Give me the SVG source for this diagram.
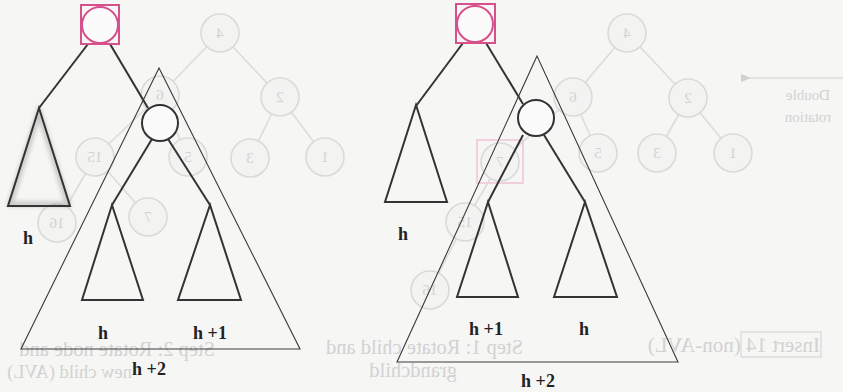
<svg xmlns="http://www.w3.org/2000/svg" width="843" height="392" viewBox="0 0 843 392">
<style>
.bg{fill:#f6f6f4}
.f{fill:none;stroke:#dcdcdc;stroke-width:1.6}
.fc{fill:#f3f3f1;stroke:#dadada;stroke-width:1.6}
.ft{font-family:"Liberation Serif",serif;fill:#d2d2d2}
.fp{fill:none;stroke:#f0c6d6;stroke-width:1.6}
.edge{stroke:#333;stroke-width:2;fill:none}
.tri{fill:none;stroke:#333;stroke-width:2;stroke-linejoin:miter}
.big{fill:none;stroke:#3a3a3a;stroke-width:1.1}
.node{fill:#fbfbfb;stroke:#333;stroke-width:2}
.pk{fill:none;stroke:#d6508c;stroke-width:2}
.pkc{fill:#fbfbfb;stroke:#d6508c;stroke-width:2}
.lbl{font-family:"Liberation Serif",serif;font-weight:bold;font-size:18px;fill:#222;text-anchor:middle}
</style>
<defs>
<filter id="blur" x="-30%" y="-30%" width="160%" height="160%"><feGaussianBlur stdDeviation="2.2"/></filter>
<marker id="fa" markerWidth="10" markerHeight="8" refX="1" refY="4" orient="auto" markerUnits="userSpaceOnUse"><path d="M10,0 L0,4 L10,8 Z" fill="#d0d0d0"/></marker>
</defs>
<rect class="bg" x="0" y="0" width="843" height="392"/>

<!-- faint bleed-through from the reverse page -->
<g id="bleed">
  <g class="f">
    <line x1="220" y1="33" x2="160" y2="95"/>
    <line x1="220" y1="33" x2="280" y2="97"/>
    <line x1="280" y1="97" x2="250" y2="158"/>
    <line x1="280" y1="97" x2="325" y2="157"/>
    <line x1="160" y1="95" x2="188" y2="157"/>
    <line x1="160" y1="95" x2="95" y2="157"/>
    <line x1="95" y1="157" x2="148" y2="217"/>
    <line x1="95" y1="157" x2="57" y2="223"/>
    <line x1="627" y1="33" x2="573" y2="97"/>
    <line x1="627" y1="33" x2="688" y2="98"/>
    <line x1="688" y1="98" x2="657" y2="153"/>
    <line x1="688" y1="98" x2="733" y2="153"/>
    <line x1="573" y1="97" x2="598" y2="153"/>
    <line x1="573" y1="97" x2="500" y2="162"/>
    <line x1="500" y1="162" x2="465" y2="222"/>
    <line x1="465" y1="222" x2="430" y2="290"/>
    <line x1="843" y1="78" x2="750" y2="78" marker-end="url(#fa)"/>
  </g>
  <rect class="fp" x="477" y="140" width="46" height="43"/>
  <g class="fc">
    <circle cx="220" cy="33" r="19"/><circle cx="280" cy="97" r="19"/><circle cx="160" cy="95" r="19"/>
    <circle cx="188" cy="157" r="19"/><circle cx="250" cy="158" r="19"/><circle cx="325" cy="157" r="19"/>
    <circle cx="95" cy="157" r="19"/><circle cx="148" cy="217" r="19"/><circle cx="57" cy="223" r="19"/>
    <circle cx="627" cy="33" r="19"/><circle cx="573" cy="97" r="19"/><circle cx="688" cy="98" r="19"/>
    <circle cx="598" cy="153" r="19"/><circle cx="657" cy="153" r="19"/><circle cx="733" cy="153" r="19"/>
    <circle cx="500" cy="162" r="19"/><circle cx="465" cy="222" r="19"/><circle cx="430" cy="290" r="19"/>
  </g>
  <g class="ft" font-size="15" text-anchor="middle" transform="scale(-1,1)">
    <text x="-220" y="38">4</text><text x="-280" y="102">2</text><text x="-160" y="100">6</text>
    <text x="-188" y="162">5</text><text x="-250" y="163">3</text><text x="-325" y="162">1</text>
    <text x="-95" y="162">15</text><text x="-148" y="222">7</text><text x="-57" y="228">16</text>
    <text x="-627" y="38">4</text><text x="-573" y="102">6</text><text x="-688" y="103">2</text>
    <text x="-598" y="158">5</text><text x="-657" y="158">3</text><text x="-733" y="158">1</text>
    <text x="-500" y="167">7</text><text x="-465" y="227">15</text><text x="-430" y="295">16</text>
  </g>
  <g class="ft" transform="scale(-1,1)">
    <text x="-808" y="100" font-size="15" text-anchor="middle">Double</text>
    <text x="-808" y="122" font-size="15" text-anchor="middle">rotation</text>
    <text x="-820" y="352" font-size="21">Insert 14 (non-AVL)</text>
    <text x="-523" y="354" font-size="20.5">Step 1: Rotate child and</text>
    <text x="-457" y="377" font-size="20.5">grandchild</text>
    <text x="-215" y="356" font-size="20.5">Step 2: Rotate node and</text>
    <text x="-132" y="378" font-size="18.5">new child (AVL)</text>
  </g>
  <rect x="741" y="332" width="80" height="25" fill="none" stroke="#d8d8d8" stroke-width="1.2"/>
  <polygon points="39,112 10,204 68,204" fill="none" stroke="#555" stroke-width="5" filter="url(#blur)" opacity="0.3"/>
</g>

<!-- left diagram -->
<g id="left-diagram">
  <g id="left-connectors">
    <line class="edge" x1="88" y1="44" x2="39" y2="108"/>
    <line class="edge" x1="110" y1="44" x2="148" y2="108"/>
    <line class="edge" x1="152" y1="139" x2="112" y2="205"/>
    <line class="edge" x1="168" y1="139" x2="210" y2="205"/>
  </g>
  <g id="left-big"><polygon class="big" points="159,68 21,349 300,349"/></g>
  <g id="left-root">
    <rect class="pk" x="81" y="5" width="38" height="39"/>
    <circle class="pkc" cx="100" cy="25" r="18"/>
  </g>
  <g id="left-child"><circle class="node" cx="160" cy="123" r="18"/></g>
  <g id="left-sub-a"><polygon class="tri" points="39,108 8,206 70,206"/><text class="lbl" x="28" y="244">h</text></g>
  <g id="left-sub-b"><polygon class="tri" points="112,205 82,300 143,300"/><text class="lbl" x="103" y="339">h</text></g>
  <g id="left-sub-c"><polygon class="tri" points="210,205 178,300 241,300"/><text class="lbl" x="210" y="339">h +1</text></g>
  <text class="lbl" x="149" y="375">h +2</text>
</g>

<!-- right diagram -->
<g id="right-diagram">
  <g id="right-connectors">
    <line class="edge" x1="463" y1="43" x2="416" y2="106"/>
    <line class="edge" x1="486" y1="43" x2="523" y2="104"/>
    <line class="edge" x1="523" y1="135" x2="488" y2="202"/>
    <line class="edge" x1="544" y1="135" x2="585" y2="202"/>
  </g>
  <g id="right-big"><polygon class="big" points="537,56 397,362 678,362"/></g>
  <g id="right-root">
    <rect class="pk" x="456" y="4" width="39" height="39"/>
    <circle class="pkc" cx="475" cy="24" r="18"/>
  </g>
  <g id="right-child"><circle class="node" cx="536" cy="118" r="18"/></g>
  <g id="right-sub-a"><polygon class="tri" points="416,105 385,202 447,202"/><text class="lbl" x="403" y="240">h</text></g>
  <g id="right-sub-b"><polygon class="tri" points="488,202 457,297 518,297"/><text class="lbl" x="486" y="335">h +1</text></g>
  <g id="right-sub-c"><polygon class="tri" points="585,202 554,297 617,297"/><text class="lbl" x="584" y="335">h</text></g>
  <text class="lbl" x="538" y="387">h +2</text>
</g>
</svg>
